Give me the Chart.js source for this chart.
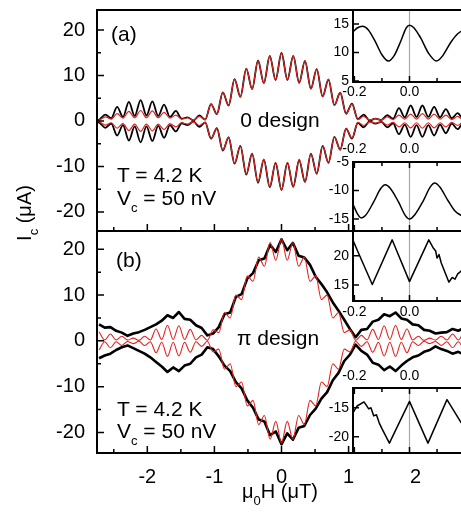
<!DOCTYPE html>
<html lang="en">
<head>
<meta charset="UTF-8">
<title>Ic(H) - 0 and pi design</title>
<script src="https://cdn.jsdelivr.net/npm/chart.js"></script>
<style>
  body { margin: 0; width: 461px; height: 525px; overflow: hidden; background: #fff;
         position: relative; font-family: "Liberation Sans", Arial, sans-serif; color: #000; }
  canvas { position: absolute; }
  .txt { position: absolute; font-size: 21px; line-height: 21px; white-space: nowrap; }
  .txt sub { font-size: 13px; line-height: 0; vertical-align: -7px; }
</style>
</head>
<body>
<canvas id="mainA" width="466" height="232" style="left:0;top:0"></canvas>
<canvas id="mainB" width="466" height="304" style="left:0;top:221px"></canvas>
<canvas id="insA1" width="148" height="100" style="left:318px;top:0"></canvas>
<canvas id="insA2" width="148" height="95" style="left:318px;top:136px"></canvas>
<canvas id="insB1" width="148" height="102" style="left:318px;top:221px"></canvas>
<canvas id="insB2" width="148" height="93" style="left:318px;top:360px"></canvas>

<div class="txt" style="left:111px;top:23px">(a)</div>
<div class="txt" style="left:280px;top:109px;transform:translateX(-50%)">0 design</div>
<div class="txt" style="left:117px;top:164px">T = 4.2 K</div>
<div class="txt" style="left:117px;top:187px">V<sub>c</sub> = 50 nV</div>
<div class="txt" style="left:116px;top:249px">(b)</div>
<div class="txt" style="left:278px;top:327px;transform:translateX(-50%)">π design</div>
<div class="txt" style="left:117px;top:398px">T = 4.2 K</div>
<div class="txt" style="left:117px;top:420px">V<sub>c</sub> = 50 nV</div>
<div class="txt" style="left:24px;top:213px;font-size:20px;transform:translate(-50%,-50%) rotate(-90deg)">I<sub>c</sub> (μA)</div>
<div class="txt" style="left:280px;top:481px;font-size:20px;transform:translateX(-50%)">μ<sub>0</sub>H (μT)</div>

<script>
const FONT = '"Liberation Sans", Arial, sans-serif';
Chart.defaults.font.family = FONT;
Chart.defaults.color = '#000';

// ---- panel (a), 0 design: field (uT) and Ic (uA) at the extrema of the oscillation
const fieldA = [-2.75,-2.713,-2.625,-2.538,-2.45,-2.363,-2.275,-2.188,-2.1,-2.013,-1.925,-1.838,-1.75,-1.663,-1.575,-1.488,-1.4,-1.313,-1.225,-1.138,-1.05,-0.963,-0.875,-0.788,-0.7,-0.613,-0.525,-0.438,-0.35,-0.263,-0.175,-0.088,0,0.088,0.175,0.263,0.35,0.438,0.525,0.613,0.7,0.788,0.875,0.963,1.05,1.138,1.225,1.313,1.4,1.488,1.575,1.663,1.75,1.838,1.925,2.013,2.1,2.188,2.275,2.363,2.45,2.538,2.625,2.713,2.75];
const measTopA = [0.0,0.3,1.4,0.6,3.1,0.9,4.2,1.1,4.6,1.2,4.3,1.1,3.6,0.9,2.2,0.5,0.8,0.1,1.2,0.3,3.7,1.5,6.3,3.4,9.2,5.3,11.5,7.0,13.3,8.3,14.3,9.0,15.0,9.0,14.3,8.4,13.2,7.1,11.4,5.4,9.1,3.5,6.2,1.6,3.8,0.4,1.4,0.1,0.5,0.2,1.3,0.5,2.8,0.8,3.4,0.9,3.4,0.9,3.1,0.8,2.6,0.6,1.7,0.4,0.6];
const measBotA = [-0.1,-0.4,-1.5,-0.6,-3.2,-0.9,-4.3,-1.2,-4.7,-1.2,-4.4,-1.1,-3.7,-0.9,-2.3,-0.5,-0.9,-0.1,-1.3,-0.3,-3.9,-1.6,-6.5,-3.6,-9.4,-5.5,-11.8,-7.2,-13.6,-8.5,-14.6,-9.2,-15.2,-9.2,-14.5,-8.6,-13.4,-7.2,-11.6,-5.5,-9.2,-3.5,-6.3,-1.7,-3.9,-0.4,-1.4,-0.1,-0.6,-0.2,-1.4,-0.5,-2.9,-0.8,-3.5,-0.9,-3.5,-0.9,-3.2,-0.8,-2.7,-0.6,-1.8,-0.4,-0.6];
const fitTopA = [0.0,0.2,0.9,0.4,1.6,0.6,2.1,0.7,2.3,0.7,2.2,0.7,1.9,0.6,1.3,0.4,0.7,0.2,1.0,0.3,3.7,1.5,6.3,3.4,9.2,5.3,11.5,7.0,13.3,8.3,14.3,9.0,15.0,9.0,14.3,8.3,13.3,7.0,11.5,5.3,9.2,3.4,6.3,1.5,3.7,0.3,1.0,0.2,0.5,0.2,0.9,0.3,1.3,0.4,1.5,0.4,1.6,0.4,1.5,0.4,1.3,0.3,1.0,0.2,0.3];
const fitBotA = [0.0,-0.2,-0.9,-0.4,-1.6,-0.6,-2.1,-0.7,-2.3,-0.7,-2.2,-0.7,-1.9,-0.6,-1.3,-0.4,-0.7,-0.2,-1.0,-0.3,-3.8,-1.6,-6.4,-3.5,-9.3,-5.4,-11.7,-7.1,-13.5,-8.4,-14.5,-9.1,-15.2,-9.1,-14.5,-8.4,-13.5,-7.1,-11.7,-5.4,-9.3,-3.5,-6.4,-1.6,-3.8,-0.3,-1.0,-0.2,-0.5,-0.2,-0.9,-0.3,-1.3,-0.4,-1.5,-0.4,-1.6,-0.4,-1.5,-0.4,-1.3,-0.3,-1.0,-0.2,-0.3];

// ---- panel (b), pi design
const fieldB = [-2.72,-2.635,-2.55,-2.465,-2.38,-2.295,-2.21,-2.125,-2.04,-1.955,-1.87,-1.785,-1.7,-1.615,-1.53,-1.445,-1.36,-1.275,-1.19,-1.105,-1.02,-0.935,-0.85,-0.765,-0.68,-0.595,-0.51,-0.425,-0.34,-0.255,-0.17,-0.085,0,0.085,0.17,0.255,0.34,0.425,0.51,0.595,0.68,0.765,0.85,0.935,1.02,1.105,1.19,1.275,1.36,1.445,1.53,1.615,1.7,1.785,1.87,1.955,2.04,2.125,2.21,2.295,2.38,2.465,2.55,2.635,2.72];
const measTopB = [3.6,2.9,3.0,2.2,1.8,1.1,1.6,1.9,2.4,3.0,3.6,4.4,5.6,5.0,6.3,4.8,4.6,3.4,2.8,1.2,1.6,3.0,5.8,6.2,9.6,10.2,13.6,14.8,17.6,18.0,21.0,19.4,22.2,19.8,21.4,18.6,18.2,16.6,14.0,12.4,10.6,8.4,6.6,4.6,2.6,0.8,2.4,2.6,4.2,4.6,5.8,5.4,6.2,4.9,4.6,3.6,3.4,2.4,2.2,1.6,1.8,1.9,2.6,2.2,2.8];
const measBotB = [-3.8,-3.2,-2.8,-2.0,-1.4,-1.0,-1.6,-2.2,-2.8,-3.6,-4.6,-5.6,-6.8,-5.8,-6.6,-5.4,-5.0,-3.6,-3.0,-1.4,-1.8,-3.4,-5.4,-6.6,-9.0,-10.4,-13.0,-14.6,-17.2,-17.6,-20.6,-19.8,-22.6,-20.2,-21.6,-19.0,-18.6,-16.2,-14.8,-12.6,-11.2,-8.6,-7.0,-4.4,-3.0,-0.8,-2.2,-3.0,-4.8,-5.2,-6.4,-5.6,-6.6,-5.4,-4.4,-3.6,-3.2,-2.4,-2.0,-1.2,-1.8,-2.2,-2.8,-2.4,-3.0];
const fitTopB = [2.0,0.2,1.5,0.2,1.0,0.15,0.6,0.1,1.0,0.2,2.6,0.3,3.4,0.3,3.3,0.3,2.5,0.2,1.2,0.1,2.4,1.8,6.2,5.0,10.0,9.0,14.2,13.0,18.3,16.3,21.5,17.6,22.3,17.6,21.5,16.3,18.3,13.0,14.2,9.0,10.0,5.0,6.2,1.8,2.4,0.1,1.2,0.2,2.5,0.3,3.3,0.3,3.4,0.3,2.6,0.2,1.0,0.1,0.6,0.15,1.0,0.2,1.5,0.2,2.0];
const fitBotB = [-2.0,-0.2,-1.5,-0.2,-1.0,-0.15,-0.6,-0.1,-1.0,-0.2,-2.6,-0.3,-3.4,-0.3,-3.3,-0.3,-2.5,-0.2,-1.2,-0.1,-2.4,-1.8,-6.2,-5.0,-10.0,-9.0,-14.2,-13.0,-18.3,-16.3,-21.5,-17.6,-22.3,-17.6,-21.5,-16.3,-18.3,-13.0,-14.2,-9.0,-10.0,-5.0,-6.2,-1.8,-2.4,-0.1,-1.2,-0.2,-2.5,-0.3,-3.3,-0.3,-3.4,-0.3,-2.6,-0.2,-1.0,-0.1,-0.6,-0.15,-1.0,-0.2,-1.5,-0.2,-2.0];

// ---- insets (zoom around zero field)
const insA1Field = [-0.205,-0.19,-0.17,-0.15,-0.125,-0.1,-0.077,-0.055,-0.03,-0.012,0.0,0.015,0.04,0.07,0.098,0.12,0.15,0.175,0.205];
const insA1Ic = [13.6,14.3,14.6,14.0,12.0,9.6,8.5,9.5,12.2,14.3,14.8,14.4,12.6,9.8,8.5,9.4,11.8,13.3,14.2];
const insA2Field = [-0.205,-0.19,-0.175,-0.16,-0.13,-0.105,-0.088,-0.07,-0.04,-0.015,0.0,0.02,0.05,0.075,0.092,0.11,0.14,0.165,0.185,0.205];
const insA2Ic = [-12.4,-14.0,-14.8,-14.4,-12.0,-9.7,-9.0,-9.6,-12.0,-14.4,-15.0,-14.2,-11.8,-9.4,-8.7,-9.4,-11.8,-13.6,-14.3,-14.6];
const insB1Field = [-0.205,-0.18,-0.135,-0.063,0.0,0.07,0.085,0.095,0.1,0.107,0.115,0.125,0.143,0.155,0.165,0.175,0.185,0.205];
const insB1Ic = [22.6,19.9,15.1,22.7,15.6,22.7,21.4,20.8,19.6,20.2,18.8,17.6,15.5,16.3,16.0,16.9,17.3,18.2];
const insB2Field = [-0.205,-0.19,-0.165,-0.148,-0.14,-0.13,-0.12,-0.11,-0.1,-0.073,0.0,0.067,0.136,0.185,0.205];
const insB2Ic = [-15.9,-14.7,-14.0,-15.2,-15.0,-16.4,-16.2,-17.6,-18.6,-21.1,-13.9,-21.1,-13.6,-17.4,-18.8];

// ---- ticks
const mainXTicks = [-2, -1, 0, 1, 2];
const mainXMinor = [-2.5, -1.5, -0.5, 0.5, 1.5, 2.5];
const mainYTicks = [-20, -10, 0, 10, 20];
const mainYMinor = [-15, -5, 5, 15];
const insXTicks = [-0.2, 0];
const insXMinor = [-0.1, 0.1];
const insA1YTicks = [5, 10, 15];
const insA2YTicks = [-15, -10, -5];
const insB1YTicks = [15, 20];
const insB2YTicks = [-20, -15];

const RED = '#e3221f';

// frame, inward ticks, white inset background, grey zero line
const framePlugin = {
  id: 'frame',
  beforeDraw(chart, args, o) {
    if (!o.fill) return;
    const a = chart.chartArea, ctx = chart.ctx;
    ctx.save();
    ctx.fillStyle = '#fff';
    ctx.fillRect(a.left, a.top, a.right - a.left, a.bottom - a.top);
    ctx.restore();
  },
  beforeDatasetsDraw(chart, args, o) {
    if (!o.zeroLine) return;
    const a = chart.chartArea, ctx = chart.ctx;
    const x = chart.scales.x.getPixelForValue(0);
    ctx.save();
    ctx.strokeStyle = '#a8a8a8';
    ctx.lineWidth = 1.2;
    ctx.beginPath(); ctx.moveTo(x, a.top); ctx.lineTo(x, a.bottom); ctx.stroke();
    ctx.restore();
  },
  afterDraw(chart, args, o) {
    if (!o.xMajor) return;
    const a = chart.chartArea, ctx = chart.ctx, sx = chart.scales.x, sy = chart.scales.y;
    ctx.save();
    ctx.strokeStyle = '#000';
    ctx.lineWidth = 1.5;
    ctx.beginPath();
    const xTick = (v, len) => {
      const x = sx.getPixelForValue(v);
      if (x < a.left || x > a.right) return;
      o.xSides.forEach(side => {
        const y0 = side === 'top' ? a.top : a.bottom;
        const d = side === 'top' ? 1 : -1;
        ctx.moveTo(x, y0); ctx.lineTo(x, y0 + d * len);
      });
    };
    const yTick = (v, len) => {
      const y = sy.getPixelForValue(v);
      if (y < a.top || y > a.bottom) return;
      ctx.moveTo(a.left, y); ctx.lineTo(a.left + len, y);
    };
    o.xMajor.forEach(v => xTick(v, o.major));
    (o.xMinor || []).forEach(v => xTick(v, o.minor));
    o.yMajor.forEach(v => yTick(v, o.major));
    (o.yMinor || []).forEach(v => yTick(v, o.minor));
    ctx.stroke();
    ctx.lineWidth = 2;
    ctx.strokeRect(a.left, a.top, a.right - a.left, a.bottom - a.top);
    ctx.restore();
  }
};
Chart.register(framePlugin);

function pts(xs, ys) {
  return xs.map((x, i) => ({ x: x, y: ys[i] }));
}

function line(xs, ys, color, width, smooth, order) {
  return {
    data: pts(xs, ys), borderColor: color, borderWidth: width, pointRadius: 0,
    fill: false, tension: 0, cubicInterpolationMode: smooth ? 'monotone' : 'default',
    borderJoinStyle: 'round', order: order
  };
}

function mainChart(id, yMin, yMax, sets, showX) {
  return new Chart(document.getElementById(id), {
    type: 'line',
    data: { datasets: sets },
    options: {
      responsive: false, animation: false, events: [],
      layout: { padding: { top: 10, right: 0, bottom: showX ? 0 : 1, left: 0 } },
      plugins: {
        legend: { display: false }, tooltip: { enabled: false },
        frame: { xMajor: mainXTicks, xMinor: mainXMinor, yMajor: mainYTicks, yMinor: mainYMinor,
                 xSides: ['bottom'], major: 7, minor: 4 }
      },
      scales: {
        x: {
          type: 'linear', min: -2.75, max: 2.75, display: showX, position: 'bottom',
          afterBuildTicks: s => { s.ticks = mainXTicks.map(v => ({ value: v })); },
          afterFit: s => { s.height = showX ? 72 : 0; s.paddingLeft = 0; s.paddingRight = 0; },
          grid: { display: false, drawTicks: false }, border: { display: false },
          ticks: { font: { size: 20 }, padding: 12, maxRotation: 0, autoSkip: false }
        },
        y: {
          type: 'linear', min: yMin, max: yMax,
          afterBuildTicks: s => { s.ticks = mainYTicks.map(v => ({ value: v })); },
          afterFit: s => { s.width = 97; s.paddingTop = 0; s.paddingBottom = 0; },
          grid: { display: false, drawTicks: false }, border: { display: false },
          ticks: { font: { size: 20 }, padding: 12 }
        }
      }
    }
  });
}

function insetChart(id, xs, ys, yMin, yMax, yTicks, xPos, xHeight, padTop, labelPad, smooth) {
  return new Chart(document.getElementById(id), {
    type: 'line',
    data: { datasets: [line(xs, ys, '#000', 1.5, smooth, 0)] },
    options: {
      responsive: false, animation: false, events: [],
      layout: { padding: { top: padTop, right: 0, bottom: 0, left: 0 } },
      plugins: {
        legend: { display: false }, tooltip: { enabled: false },
        frame: { fill: true, zeroLine: true, xMajor: insXTicks, xMinor: insXMinor, yMajor: yTicks,
                 xSides: xPos === 'top' ? ['top', 'bottom'] : ['bottom'], major: 6, minor: 4 }
      },
      scales: {
        x: {
          type: 'linear', min: -0.205, max: 0.205, position: xPos,
          afterBuildTicks: s => { s.ticks = insXTicks.map(v => ({ value: v })); },
          afterFit: s => { s.height = xHeight; s.paddingLeft = 0; s.paddingRight = 0; },
          grid: { display: false, drawTicks: false }, border: { display: false },
          ticks: { font: { size: 14 }, padding: labelPad, maxRotation: 0, autoSkip: false,
                   callback: v => v.toFixed(1) }
        },
        y: {
          type: 'linear', min: yMin, max: yMax,
          afterBuildTicks: s => { s.ticks = yTicks.map(v => ({ value: v })); },
          afterFit: s => { s.width = 35; s.paddingTop = 0; s.paddingBottom = 0; },
          grid: { display: false, drawTicks: false }, border: { display: false },
          ticks: { font: { size: 14 }, padding: 4 }
        }
      }
    }
  });
}

mainChart('mainA', -24.2, 24.4, [
  line(fieldA, fitTopA, RED, 1.2, true, 0),
  line(fieldA, fitBotA, RED, 1.2, true, 0),
  line(fieldA, measTopA, '#000', 1.8, true, 1),
  line(fieldA, measBotA, '#000', 1.8, true, 1)
], false);

mainChart('mainB', -24.5, 24.0, [
  line(fieldB, fitTopB, RED, 1.1, true, 0),
  line(fieldB, fitBotB, RED, 1.1, true, 0),
  line(fieldB, measTopB, '#000', 2.6, false, 1),
  line(fieldB, measBotB, '#000', 2.6, false, 1)
], true);

insetChart('insA1', insA1Field, insA1Ic, 4.82, 17.46, insA1YTicks, 'bottom', 18, 10, 2, true);
insetChart('insA2', insA2Field, insA2Ic, -17.1, -5, insA2YTicks, 'top', 26, 0, 4, true);
insetChart('insB1', insB1Field, insB1Ic, 12.3, 24.2, insB1YTicks, 'bottom', 22, 10, 3, false);
insetChart('insB2', insB2Field, insB2Ic, -22.8, -11.6, insB2YTicks, 'top', 28, 0, 3, false);
</script>
</body>
</html>
